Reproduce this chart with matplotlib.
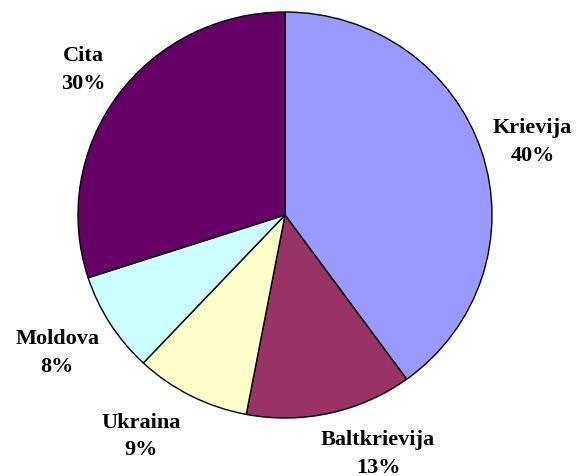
import matplotlib
matplotlib.use("Agg")
import matplotlib.pyplot as plt
import numpy as np

# dati
valstis = ["Krievija", "Baltkrievija", "Ukraina", "Moldova", "Cita"]
procenti = [40, 13, 9, 8, 30]
krasas = ["#9999FF", "#993366", "#FFFFCC", "#CCFFFF", "#660066"]

plt.rcParams['font.family'] = ['Liberation Serif', 'DejaVu Serif']

fig = plt.figure(figsize=(5.79, 4.77), dpi=100)
# nedaudz eliptisks aplis kā Excel
ax = fig.add_axes([78 / 579, 58 / 477, 414 / 579, 406 / 477])

wedges, _ = ax.pie(procenti, colors=krasas, startangle=90, counterclock=False,
                   radius=1.0, wedgeprops=dict(edgecolor="black", linewidth=1.0))
ax.set_aspect("auto")

# etiketes aiz sektoriem (leņķa nobīde, attālums)
nobide = [-1.1, 8.4, -5.6, -0.9, -0.5]
dist = [1.25, 1.255, 1.29, 1.29, 1.21]
for w, nos, p, dn, d in zip(wedges, valstis, procenti, nobide, dist):
    ang = np.deg2rad((w.theta1 + w.theta2) / 2 + dn)
    x, y = d * np.cos(ang), d * np.sin(ang)
    ax.text(x, y, "{}\n{}%".format(nos, p), ha="center", va="center",
            fontsize=16, fontweight="bold", linespacing=1.5)

ax.set_xlim(-1, 1)
ax.set_ylim(-1, 1)
ax.axis("off")

fig.savefig("out.png", dpi=100)
